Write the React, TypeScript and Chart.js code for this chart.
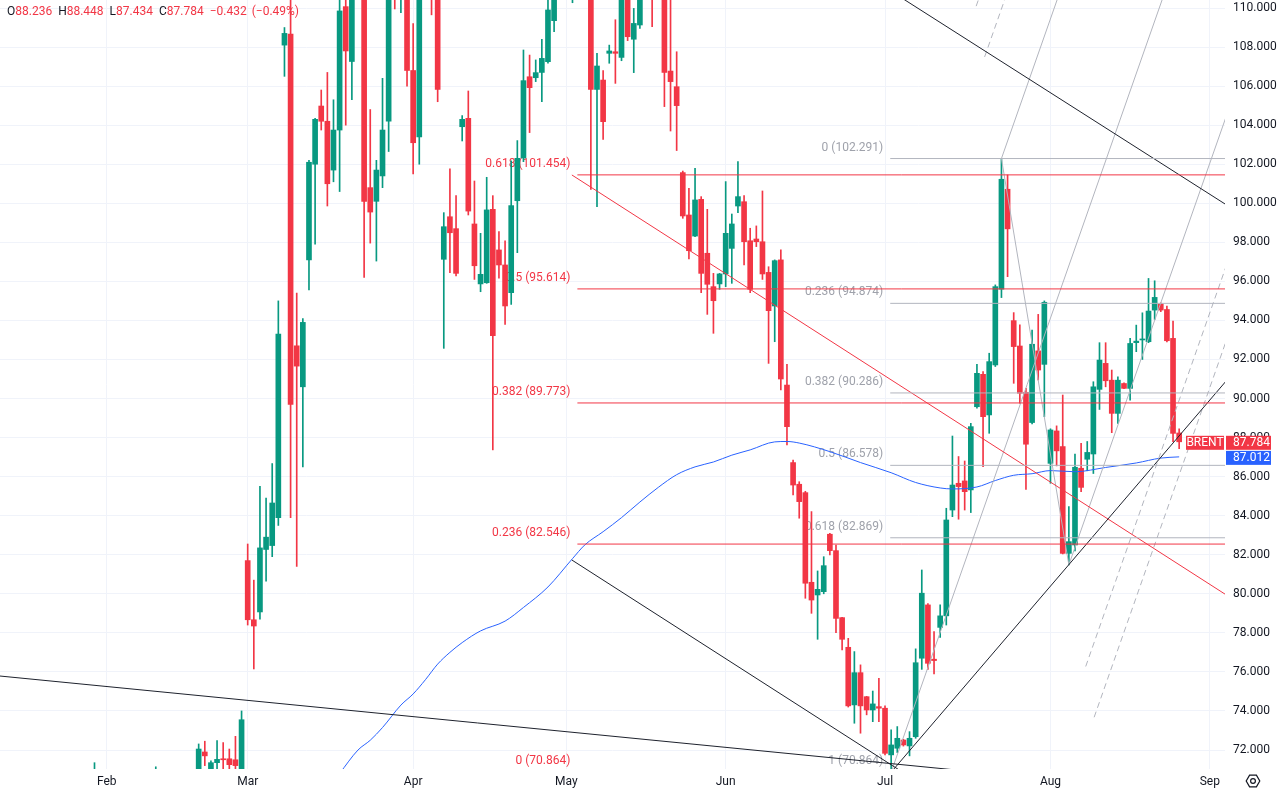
import React, { useEffect, useRef } from "react";
import { Chart, registerables } from "chart.js";

Chart.register(...registerables);

// ---- candles (index 0 = first session of March, one step per session) ----
const FIRST_INDEX = -25;
const candleOpen = [
  70.2, 70.6, 70.1, 69.7, 70.0, 69.8, 69.4, 69.7, 70.2, 69.9,
  70.3, 70.8, 70.2, 70.0, 70.4, 70.1, 70.5, 70.8, 71.9, 71.0,
  71.35, 71.55, 71.55, 71.5, 70.8, 81.7, 78.67, 79.07, 82.27, 82.47,
  83.9, 108.1, 108.67, 92.7, 90.6, 97.1, 102.0, 104.98, 104.2, 101.7,
  103.75, 110.07, 107.26, 111.5, 111.2, 100.8, 100.1, 101.4, 104.2, 112.0,
  110.5, 111.5, 106.8, 103.4, 111.2, 112.0, 111.2, 97.13, 99.31, 98.7,
  103.92, 104.35, 98.94, 95.87, 95.93, 99.69, 97.61, 96.84, 95.42, 100.13,
  102.32, 106.48, 106.43, 106.7, 107.25, 109.35, 111.5, 112.4, 111.0, 112.2,
  111.5, 111.9, 105.83, 106.31, 107.68, 107.76, 107.47, 111.2, 108.4, 109.13,
  110.9, 112.2, 110.9, 111.8, 106.77, 105.97, 101.57, 99.4, 98.32, 100.2,
  97.44, 95.73, 95.87, 96.38, 97.69, 99.86, 100.08, 98.08, 98.17, 98.03,
  96.46, 94.74, 97.1, 90.69, 86.72, 85.61, 85.18, 80.59, 79.94, 80.11,
  83.05, 82.21, 78.78, 77.26, 74.31, 75.96, 74.73, 74.05, 74.22, 74.14,
  71.75, 72.09, 72.51, 72.21, 72.68, 76.7, 79.43, 76.65, 78.28, 78.87,
  84.29, 85.66, 85.78, 85.32, 89.58, 91.24, 89.16, 91.72, 95.6, 100.72,
  93.99, 92.69, 90.32, 88.77, 92.44, 91.75, 86.68, 88.34, 87.54, 82.07,
  82.5, 86.43, 86.89, 87.16, 90.47, 91.8, 90.94, 89.24, 90.77, 90.52,
  92.86, 93.0, 92.91, 94.53, 94.84, 94.56, 93.08, 88.236,
];
const candleHigh = [
  71.35, 70.8, 70.5, 70.3, 70.6, 70.4, 70.0, 70.5, 70.7, 70.6,
  71.14, 70.85, 70.7, 70.5, 70.8, 70.7, 70.85, 72.31, 72.45, 71.45,
  72.48, 72.38, 72.05, 72.7, 74.0, 82.55, 80.7, 85.5, 84.9, 86.67,
  95.0, 109.0, 110.8, 95.4, 94.1, 102.2, 104.35, 105.8, 106.7, 105.3,
  110.6, 110.6, 111.8, 113.0, 111.5, 104.8, 102.2, 106.4, 111.3, 112.5,
  112.8, 112.0, 109.2, 111.5, 112.3, 112.6, 111.6, 99.52, 101.76, 100.39,
  104.49, 105.75, 101.14, 98.46, 101.33, 100.39, 98.55, 98.07, 102.17, 103.21,
  107.85, 107.59, 107.34, 108.4, 110.8, 111.5, 113.0, 113.5, 112.8, 113.2,
  112.4, 112.2, 107.68, 106.79, 108.1, 109.4, 111.3, 111.6, 109.98, 111.4,
  112.0, 112.8, 112.3, 112.3, 110.8, 107.76, 101.65, 100.77, 101.79, 100.34,
  99.69, 96.41, 96.41, 101.11, 99.45, 102.13, 100.39, 98.72, 98.84, 100.63,
  96.75, 97.1, 97.61, 91.75, 86.85, 85.74, 85.25, 84.21, 81.17, 81.9,
  83.1, 82.5, 78.8, 77.72, 77.04, 76.36, 74.75, 75.02, 75.67, 74.26,
  73.03, 73.2, 72.55, 72.94, 77.18, 81.22, 79.5, 78.06, 79.43, 84.38,
  88.08, 87.03, 86.8, 88.73, 91.75, 91.38, 92.32, 95.82, 102.291, 101.45,
  94.4, 93.77, 90.52, 93.51, 94.31, 95.0, 88.45, 88.6, 90.18, 84.46,
  87.16, 87.71, 87.8, 90.86, 92.86, 92.86, 91.46, 91.11, 90.8, 93.08,
  93.76, 94.39, 96.15, 96.03, 94.9, 94.73, 93.97, 88.448,
];
const candleLow = [
  69.8, 69.9, 69.4, 69.2, 69.5, 69.1, 68.8, 69.3, 69.6, 69.4,
  69.9, 70.0, 69.6, 69.5, 69.8, 69.7, 70.0, 70.5, 71.2, 70.6,
  70.8, 70.9, 70.8, 70.9, 70.6, 78.4, 76.15, 78.7, 80.65, 81.9,
  83.5, 106.5, 83.9, 81.4, 86.5, 95.56, 97.9, 103.75, 99.86, 101.1,
  100.6, 104.0, 105.3, 110.6, 96.2, 97.96, 97.04, 100.8, 102.65, 109.95,
  109.76, 106.0, 101.5, 102.0, 110.6, 109.65, 105.2, 92.57, 96.45, 96.28,
  103.19, 99.4, 96.1, 95.47, 95.9, 87.37, 96.16, 93.8, 94.82, 97.47,
  102.13, 103.62, 106.23, 105.2, 107.17, 108.79, 110.7, 111.0, 110.27, 110.9,
  110.6, 100.71, 99.83, 103.27, 107.17, 106.14, 107.3, 108.33, 106.69, 108.96,
  110.5, 109.04, 110.5, 104.95, 103.7, 102.7, 99.23, 97.15, 98.29, 95.42,
  94.31, 93.34, 95.59, 95.73, 95.9, 99.52, 96.84, 95.42, 97.78, 96.1,
  91.8, 92.91, 90.44, 87.62, 85.06, 83.87, 79.77, 79.0, 77.67, 80.0,
  81.99, 78.01, 77.12, 74.2, 73.37, 72.86, 73.8, 73.45, 73.45, 71.75,
  70.864, 71.87, 72.2, 71.7, 72.6, 76.13, 76.13, 75.89, 77.77, 78.4,
  83.95, 83.82, 84.29, 84.16, 89.5, 86.51, 88.22, 91.64, 95.17, 96.24,
  90.78, 89.76, 85.35, 88.7, 90.95, 89.07, 85.66, 86.55, 82.04, 81.48,
  82.2, 85.23, 86.3, 86.16, 89.44, 90.6, 88.25, 88.73, 90.5, 89.92,
  92.4, 92.0, 92.86, 94.05, 94.45, 92.9, 87.79, 87.434,
];
const candleClose = [
  70.6, 70.1, 69.7, 70.0, 69.8, 69.4, 69.7, 70.2, 69.9, 70.3,
  70.8, 70.2, 70.0, 70.4, 70.1, 70.5, 70.6, 72.05, 71.7, 71.35,
  71.52, 71.5, 71.25, 71.2, 73.55, 78.67, 78.35, 82.35, 82.9, 84.65,
  93.3, 108.7, 89.7, 91.66, 93.9, 102.1, 104.3, 104.2, 101.0, 103.75,
  109.85, 107.8, 111.0, 112.0, 100.1, 99.55, 101.7, 103.75, 110.9, 111.0,
  112.0, 106.8, 103.1, 111.0, 111.8, 111.0, 105.83, 98.8, 98.49, 96.41,
  104.3, 99.6, 96.8, 96.36, 99.66, 93.22, 96.84, 94.74, 99.88, 102.3,
  106.28, 105.92, 106.69, 107.42, 109.9, 111.0, 112.4, 111.6, 112.2, 111.5,
  111.9, 105.83, 107.03, 104.18, 107.8, 107.68, 110.8, 108.53, 109.21, 110.9,
  111.6, 110.8, 111.8, 106.7, 106.23, 105.0, 99.35, 97.57, 100.17, 96.41,
  95.85, 95.01, 96.38, 98.46, 98.94, 100.34, 98.03, 95.59, 98.03, 96.38,
  94.5, 97.06, 91.0, 88.56, 85.57, 84.72, 80.54, 79.68, 80.23, 81.44,
  82.21, 78.74, 77.67, 74.26, 75.96, 74.26, 74.05, 74.36, 74.14, 71.83,
  72.26, 72.6, 72.26, 72.6, 76.47, 80.03, 76.44, 76.58, 78.87, 83.78,
  85.57, 85.49, 85.23, 88.56, 91.29, 89.07, 91.89, 95.73, 101.23, 98.69,
  92.66, 90.27, 87.66, 92.78, 91.46, 94.93, 88.39, 87.32, 82.07, 82.67,
  86.48, 85.45, 87.24, 90.6, 91.97, 90.91, 89.24, 90.94, 90.52, 92.82,
  92.94, 93.03, 94.48, 95.18, 94.53, 92.96, 88.216, 87.784,
];

// ---- axes ----
const monthLabels = ["Feb", "Mar", "Apr", "May", "Jun", "Jul", "Aug", "Sep"];
const monthStartIndex = [-23, 0, 27, 52, 78, 104, 131, 157];
const priceTicks = [72, 74, 76, 78, 80, 82, 84, 86, 88, 90, 92, 94, 96, 98, 100, 102, 104, 106, 108, 110];

// ---- moving average (blue) ----
const maIndex = [15, 18, 20, 22, 25, 27, 29, 31, 33, 35, 38, 42, 45, 49, 53, 55, 58, 61, 64, 67, 70, 73, 76, 79, 82, 86, 88, 90, 95, 100, 105, 109, 113, 115, 119, 122, 125, 128, 131, 135, 140, 145, 149, 152];
const maValue = [70.8, 72.0, 72.5, 73.15, 74.3, 74.87, 75.6, 76.4, 77.0, 77.5, 78.1, 78.6, 79.3, 80.35, 81.8, 82.5, 83.18, 83.9, 84.7, 85.45, 86.1, 86.5, 86.75, 87.1, 87.37, 87.78, 87.8, 87.72, 87.28, 86.72, 86.2, 85.7, 85.42, 85.37, 85.47, 85.8, 86.07, 86.15, 86.31, 86.25, 86.47, 86.7, 86.95, 87.012];

// ---- fibonacci retracements ----
const redFibRatios = [0, 0.236, 0.382, 0.5, 0.618];
const redFibPrices = [70.864, 82.546, 89.773, 95.614, 101.454];
const redFibStart = 53.8;
const greyFibRatios = [0, 0.236, 0.382, 0.5, 0.618, 1];
const greyFibPrices = [102.291, 94.874, 90.286, 86.578, 82.869, 70.864];
const greyFibStart = 104.85;
const DRAW_END = 166;

// ---- trend lines: [[index, price], [index, price]] ----
const blackTrendLines = [
  [[100, 111.86], [166, 98.66]],
  [[52.9, 81.73], [107, 70.84]],
  [[105, 70.864], [166, 93.22]],
  [[-45, 75.93], [120, 70.84]],
];
const redTrendLines = [[[52.9, 101.45], [166, 78.67]]];

// ---- pitchfork anchors ----
const pitchforkA = [105, 70.864];
const pitchforkB = [123, 102.291];
const pitchforkC = [134, 81.48];
const pitchforkDashedLevels = [1.5, 1.75];

const UP = "#089981";
const DOWN = "#f23645";
const RED_LINE = "#f23645";
const GREY_LINE = "#b2b5be";
const GREY_TEXT = "#9fa2ab";
const BLUE = "#2962ff";
const TEXT = "#131722";
const GRID = "#f0f3fa";

function lineDs(points: number[][], color: string, dash: number[] = [], order = 1) {
  return {
    type: "line" as const,
    data: points.map((p) => ({ x: p[0], y: p[1] })),
    borderColor: color,
    borderWidth: 1,
    borderDash: dash,
    pointRadius: 0,
    fill: false,
    tension: 0,
    order,
  };
}

function pitchforkSegments() {
  const mid = [(pitchforkB[0] + pitchforkC[0]) / 2, (pitchforkB[1] + pitchforkC[1]) / 2];
  const slope = (mid[1] - pitchforkA[1]) / (mid[0] - pitchforkA[0]);
  const ray = (p: number[]) => [p, [DRAW_END, p[1] + slope * (DRAW_END - p[0])]];
  const solid = [ray(pitchforkA), ray(pitchforkB), ray(pitchforkC), [pitchforkB, pitchforkC]];
  const dashed: number[][][] = [];
  pitchforkDashedLevels.forEach((k) => {
    [pitchforkB, pitchforkC].forEach((E) => {
      const s = [mid[0] + k * (E[0] - mid[0]), mid[1] + k * (E[1] - mid[1])];
      dashed.push(ray(s));
    });
  });
  return { solid, dashed };
}

function fmtSigned(v: number, d: number) {
  return (v < 0 ? "\u2212" : "") + Math.abs(v).toFixed(d);
}

export default function App() {
  const ref = useRef<HTMLCanvasElement>(null);

  useEffect(() => {
    const canvas = ref.current;
    if (!canvas) return;
    Chart.defaults.font.family = "Roboto, 'Noto Sans', sans-serif";
    Chart.defaults.font.size = 12;

    const idx = candleOpen.map((_, i) => FIRST_INDEX + i);
    const colors = candleOpen.map((o, i) => (candleClose[i] >= o ? UP : DOWN));
    const last = candleClose.length - 1;

    const datasets: any[] = [];
    datasets.push({
      type: "bar",
      data: idx.map((x, i) => ({ x, y: [candleLow[i], candleHigh[i]] })),
      backgroundColor: colors,
      borderWidth: 0,
      barThickness: 1,
      grouped: false,
      order: 20,
    });
    datasets.push({
      type: "bar",
      data: idx.map((x, i) => ({ x, y: [candleOpen[i], candleClose[i]] })),
      backgroundColor: colors,
      borderWidth: 0,
      barThickness: 5,
      minBarLength: 1,
      grouped: false,
      order: 19,
    });
    datasets.push({
      type: "line",
      data: maIndex.map((x, i) => ({ x, y: maValue[i] })),
      borderColor: BLUE,
      borderWidth: 1,
      pointRadius: 0,
      cubicInterpolationMode: "monotone",
      fill: false,
      order: 2,
    });
    redFibPrices.forEach((p) => datasets.push(lineDs([[redFibStart, p], [DRAW_END, p]], RED_LINE)));
    greyFibPrices.forEach((p) => datasets.push(lineDs([[greyFibStart, p], [DRAW_END, p]], GREY_LINE)));
    blackTrendLines.forEach((seg) => datasets.push(lineDs(seg, "#1e222d")));
    redTrendLines.forEach((seg) => datasets.push(lineDs(seg, RED_LINE)));
    const pf = pitchforkSegments();
    pf.solid.forEach((seg) => datasets.push(lineDs(seg, GREY_LINE)));
    pf.dashed.forEach((seg) => datasets.push(lineDs(seg, GREY_LINE, [6, 4])));

    const overlay = {
      id: "overlay",
      beforeDatasetsDraw(chart: any) {
        const { ctx, chartArea } = chart;
        const xs = chart.scales.x;
        const ys = chart.scales.y;
        ctx.save();
        ctx.beginPath();
        ctx.rect(chartArea.left, chartArea.top, chartArea.right - chartArea.left, chartArea.bottom - chartArea.top);
        ctx.clip();
        ctx.font = "12px Roboto";
        ctx.textAlign = "right";
        ctx.textBaseline = "middle";
        const labels = (ratios: number[], prices: number[], start: number, color: string) => {
          ctx.fillStyle = color;
          const px = xs.getPixelForValue(start) - 7;
          ratios.forEach((r, i) => {
            ctx.fillText(`${r} (${prices[i].toFixed(3)})`, px, ys.getPixelForValue(prices[i]) - 11);
          });
        };
        labels(redFibRatios, redFibPrices, redFibStart, RED_LINE);
        labels(greyFibRatios, greyFibPrices, greyFibStart, GREY_TEXT);
        ctx.restore();
      },
      afterDraw(chart: any) {
        const { ctx, chartArea } = chart;
        const ys = chart.scales.y;
        const right = chartArea.right;
        const yC = ys.getPixelForValue(candleClose[last]);
        const yM = ys.getPixelForValue(maValue[maValue.length - 1]);
        ctx.save();
        ctx.font = "12px Roboto";
        ctx.textBaseline = "middle";
        ctx.fillStyle = DOWN;
        ctx.fillRect(right - 39, yC - 6, 38, 14);
        ctx.fillRect(right + 1, yC - 6, 45, 14);
        ctx.fillStyle = BLUE;
        ctx.fillRect(right + 1, yM - 6, 45, 14);
        ctx.fillStyle = "#ffffff";
        ctx.textAlign = "center";
        ctx.fillText("BRENT", right - 20, yC + 1);
        ctx.textAlign = "left";
        ctx.fillText(candleClose[last].toFixed(3), right + 8, yC + 1);
        ctx.fillText(maValue[maValue.length - 1].toFixed(3), right + 8, yM + 1);
        const cx = 1253, cy = 781, r = 6.8;
        ctx.strokeStyle = TEXT;
        ctx.lineWidth = 1.2;
        ctx.beginPath();
        for (let k = 0; k < 6; k++) {
          const a = (Math.PI / 3) * k;
          const px = cx + r * Math.cos(a);
          const py = cy + r * Math.sin(a);
          if (k === 0) ctx.moveTo(px, py);
          else ctx.lineTo(px, py);
        }
        ctx.closePath();
        ctx.stroke();
        ctx.beginPath();
        ctx.arc(cx, cy, 2.4, 0, Math.PI * 2);
        ctx.stroke();
        ctx.restore();
      },
    };

    const chart = new Chart(canvas, {
      type: "bar",
      data: { datasets },
      options: {
        animation: false,
        responsive: false,
        events: [],
        layout: { padding: 0 },
        plugins: { legend: { display: false }, tooltip: { enabled: false } },
        scales: {
          x: {
            type: "linear",
            min: -40.42,
            max: 159.48,
            offset: false,
            grid: { color: GRID, drawTicks: false, offset: false },
            border: { display: false },
            afterBuildTicks: (s: any) => {
              s.ticks = monthStartIndex.map((v) => ({ value: v }));
            },
            afterFit: (s: any) => {
              s.height = 25;
              s.paddingLeft = 0;
              s.paddingRight = 0;
              s.paddingTop = 0;
              s.paddingBottom = 0;
            },
            ticks: {
              autoSkip: false,
              maxRotation: 0,
              padding: 6,
              color: TEXT,
              font: { size: 12 },
              callback: (v: any) => {
                const i = monthStartIndex.indexOf(Number(v));
                return i >= 0 ? monthLabels[i] : "";
              },
            },
          },
          y: {
            type: "linear",
            position: "right",
            min: 71.027,
            max: 110.41,
            grid: { color: GRID, drawTicks: false },
            border: { display: false },
            afterBuildTicks: (s: any) => {
              s.ticks = priceTicks.map((v) => ({ value: v }));
            },
            afterFit: (s: any) => {
              s.width = 55;
              s.paddingTop = 0;
              s.paddingBottom = 0;
              s.paddingLeft = 0;
              s.paddingRight = 0;
            },
            ticks: {
              padding: 8,
              color: TEXT,
              font: { size: 12 },
              callback: (v: any) => Number(v).toFixed(3),
            },
          },
        },
      } as any,
      plugins: [overlay],
    } as any);

    return () => chart.destroy();
  }, []);

  const last = candleClose.length - 1;
  const chg = candleClose[last] - candleClose[last - 1];
  const pct = (chg / candleClose[last - 1]) * 100;
  const red = { color: DOWN };

  return (
    <div style={{ position: "fixed", left: 0, top: 0, width: 1280, height: 794, background: "#ffffff", overflow: "hidden" }}>
      <canvas ref={ref} width={1280} height={794} style={{ display: "block", width: 1280, height: 794 }} />
      <div
        style={{
          position: "absolute",
          left: 7,
          top: 4,
          font: "12px Roboto, sans-serif",
          lineHeight: "14px",
          whiteSpace: "nowrap",
          color: TEXT,
        }}
      >
        <span>O</span>
        <span style={{ ...red, marginRight: 6 }}>{candleOpen[last].toFixed(3)}</span>
        <span>H</span>
        <span style={{ ...red, marginRight: 6 }}>{candleHigh[last].toFixed(3)}</span>
        <span>L</span>
        <span style={{ ...red, marginRight: 6 }}>{candleLow[last].toFixed(3)}</span>
        <span>C</span>
        <span style={{ ...red, marginRight: 6 }}>{candleClose[last].toFixed(3)}</span>
        <span style={{ ...red, marginRight: 5 }}>{fmtSigned(chg, 3)}</span>
        <span style={red}>({fmtSigned(pct, 2)}%)</span>
      </div>
    </div>
  );
}
